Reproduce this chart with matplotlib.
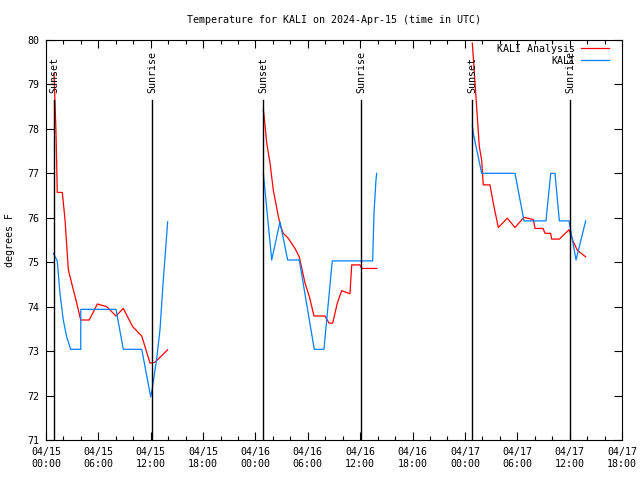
import numpy as np
import matplotlib
matplotlib.use('Agg')
import matplotlib.pyplot as plt
import matplotlib.dates as mdates
from datetime import datetime, timedelta

# hours since 2024-04-15 00:00 UTC
start = datetime(2024, 4, 15, 0, 0)

# KALI Analysis (red)
ana_h = [0.92, 1.15, 1.29, 1.87, 2.18, 2.56, 2.94, 3.52, 3.98, 4.96, 5.88, 6.96, 8.02, 8.86, 9.93, 10.97, 11.92, 12.49, 13.94,
         None,
         24.90, 24.98, 25.29, 25.67, 26.04, 26.62, 26.89, 27.19, 27.76, 28.53, 29.02, 29.68, 30.17, 30.71, 31.97, 32.43,
         32.85, 33.38, 33.88, 34.83, 35.03, 35.98, 36.17, 37.89,
         None,
         48.85, 49.65, 49.92, 50.10, 50.87, 51.25, 51.83, 52.86, 53.74, 54.77, 55.84, 56.03, 56.95, 57.18, 57.83, 57.94,
         58.82, 59.93, 60.42, 60.88, 61.84]
ana_t = [79.25, 77.9, 76.57, 76.57, 75.95, 74.83, 74.53, 74.08, 73.7, 73.7, 74.06, 74.0, 73.79, 73.96, 73.55, 73.34, 72.73, 72.75, 73.03,
         None,
         78.43, 78.31, 77.68, 77.23, 76.63, 76.03, 75.8, 75.65, 75.54, 75.31, 75.12, 74.53, 74.23, 73.79, 73.79, 73.63,
         73.63, 74.08, 74.36, 74.29, 74.94, 74.94, 74.86, 74.86,
         None,
         79.93, 77.6, 77.3, 76.74, 76.74, 76.33, 75.78, 75.99, 75.78, 76.01, 75.96, 75.76, 75.76, 75.65, 75.65, 75.52,
         75.52, 75.73, 75.46, 75.27, 75.12]

# KALI observations (blue)
obs_h = [0.84, 1.29, 1.60, 1.98, 2.37, 2.83, 3.98, 3.99, 8.02, 8.86, 10.97, 12.0, 12.18, 12.69, 13.06, 13.44, 13.64, 13.94,
         None,
         24.90, 24.98, 25.86, 26.81, 27.69, 29.02, 30.74, 31.85, 32.80, 37.43, 37.58, 37.81, 37.89,
         None,
         48.85, 48.96, 49.92, 53.74, 54.77, 57.29, 57.83, 58.32, 58.82, 59.93, 60.73, 61.84]
obs_t = [75.2, 75.03, 74.3, 73.7, 73.32, 73.04, 73.04, 73.94, 73.94, 73.04, 73.04, 71.97, 72.16, 72.84, 73.48, 74.6, 75.12, 75.91,
         None,
         77.0, 76.85, 75.05, 75.91, 75.05, 75.05, 73.04, 73.04, 75.03, 75.03, 76.1, 76.85, 77.0,
         None,
         78.09, 77.9, 77.0, 77.0, 75.93, 75.93, 77.0, 77.0, 75.93, 75.93, 75.05, 75.93]

sunset_h = [0.92, 24.87, 48.81]
sunrise_h = [12.15, 36.1, 60.04]


def to_dates(hours, vals):
    xs, ys = [], []
    for h, v in zip(hours, vals):
        if h is None:
            xs.append(np.nan)
            ys.append(np.nan)
        else:
            xs.append(mdates.date2num(start + timedelta(hours=h)))
            ys.append(v)
    return xs, ys


plt.rcParams['font.family'] = 'DejaVu Sans Mono'
plt.rcParams['font.size'] = 7.2

fig = plt.figure(figsize=(6.4, 4.8), dpi=100)
ax = fig.add_axes([46 / 640, 1 - 440 / 480, 576 / 640, 400 / 480])

ax_x, ax_y = to_dates(ana_h, ana_t)
ob_x, ob_y = to_dates(obs_h, obs_t)
ax.plot(ax_x, ax_y, color='#ff0000', lw=0.9, label='KALI Analysis')
ax.plot(ob_x, ob_y, color='#0080ff', lw=0.9, label='KALI')

for hs, name in [(sunset_h, 'Sunset'), (sunrise_h, 'Sunrise')]:
    for h in hs:
        d = mdates.date2num(start + timedelta(hours=h))
        ax.plot([d, d], [71, 78.65], color='black', lw=1.0)
        ax.text(d, 78.8, name, rotation=90, ha='center', va='bottom')

x0 = mdates.date2num(start)
x1 = mdates.date2num(start + timedelta(hours=66))
ax.set_xlim(x0, x1)
ax.set_ylim(71, 80)
ax.set_yticks(range(71, 81))
ax.xaxis.set_major_locator(mdates.HourLocator(byhour=[0, 6, 12, 18]))
ax.xaxis.set_minor_locator(mdates.HourLocator(byhour=range(0, 24, 2)))
ax.xaxis.set_major_formatter(mdates.DateFormatter('%m/%d\n%H:%M'))
ax.tick_params(which='both', direction='in', top=True, right=True)
ax.tick_params(which='major', length=6, width=0.8, pad=5)
ax.tick_params(which='minor', length=3, width=0.8)
for s in ax.spines.values():
    s.set_linewidth(0.8)

ax.set_ylabel('degrees F', labelpad=9)
ax.set_title('Temperature for KALI on 2024-Apr-15 (time in UTC)', fontsize=7.2, pad=12)
ax.legend(loc='upper right', bbox_to_anchor=(0.9774, 0.99), frameon=False, markerfirst=False,
          handlelength=2.8, handletextpad=0.6, borderaxespad=0, borderpad=0, labelspacing=0.2)

fig.savefig('out.png', dpi=100)
